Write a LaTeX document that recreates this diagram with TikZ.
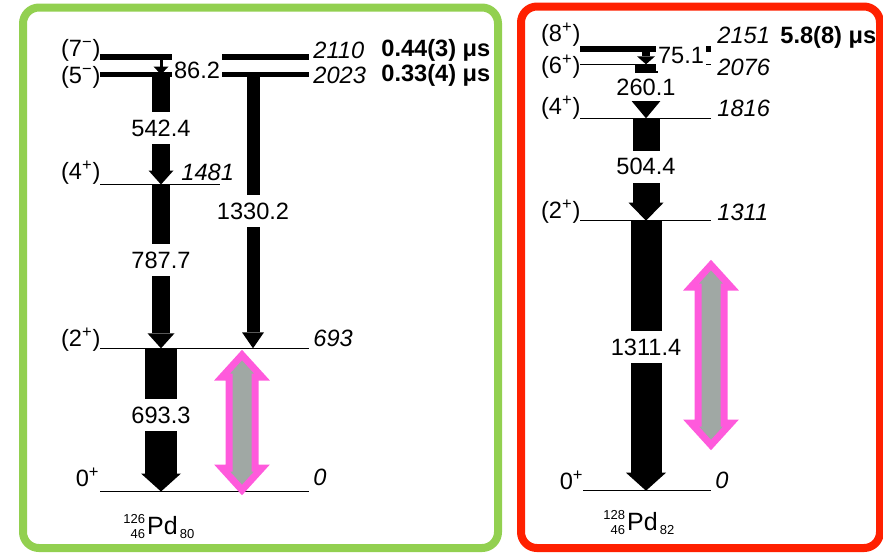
\documentclass[tikz,border=0pt]{standalone}
\usepackage{fontspec}
\setmainfont{Liberation Sans}
\usetikzlibrary{arrows.meta}

\definecolor{boxgreen}{RGB}{146,208,80}
\definecolor{boxred}{RGB}{255,32,0}
\definecolor{arrowpink}{RGB}{255,90,220}
\definecolor{arrowgrey}{RGB}{160,168,164}

\newcommand{\diafont}{\fontsize{11.8pt}{14pt}\selectfont}
\newcommand{\smallnum}{\fontsize{6.5pt}{7.5pt}\selectfont}
\newcommand{\nuc}[4]{{\smallnum\raisebox{5.5pt}{#1}\llap{\raisebox{-2pt}{#2}}}\kern1pt%
  {\fontsize{12.5pt}{14pt}\selectfont#3}{\smallnum\,\raisebox{-2pt}{#4}}}

\tikzset{
  lvl/.style={line width=0.7pt},
  isomer/.style={line width=2.8pt},
  gam/.style n args={3}{line width=#1, -{Triangle[width=#2, length=#3, line width=0pt]}},
  glab/.style={fill=white, inner xsep=1pt, inner ysep=3.75pt},
  spin/.style={anchor=east},
  en/.style={anchor=west, font=\diafont\itshape},
  halflife/.style={anchor=west, font=\diafont\bfseries},
  dbl/.style={draw=arrowpink, fill=arrowgrey, line width=3.5pt},
  panel/.style={line width=4pt, rounded corners=8pt}
}

\begin{document}
\begin{tikzpicture}[x=0.5pt, y=-0.5pt, inner sep=0pt, font=\diafont]
  \useasboundingbox (0,0) rectangle (883,553);
  \draw[panel, boxgreen] (23,7.5) rectangle (498,548);
  \draw[panel, boxred] (521,6.5) rectangle (880,548);

  % 126Pd
  \coordinate (a2110) at (100,57);    \coordinate (b2110) at (309,57);
  \coordinate (a2023) at (100,74.5);  \coordinate (b2023) at (309,74.5);
  \coordinate (a1481) at (100,184.5); \coordinate (b1481) at (220,184.5);
  \coordinate (a693) at (100,348.3);  \coordinate (b693) at (309,348.3);
  \coordinate (a0) at (100,491.5);    \coordinate (b0) at (309,491.5);
  \coordinate (g1) at (161,0);
  \coordinate (g2) at (253,0);

  \draw[isomer] (a2110) -- (b2110);
  \draw[isomer] (a2023) -- (b2023);
  \draw[lvl] (a1481) -- (b1481);
  \draw[lvl] (a693) -- (b693);
  \draw[lvl] (a0) -- (b0);

  \draw[gam={1.5pt}{7.5pt}{4pt}] (g1 |- a2110) -- (g1 |- a2023);
  \draw[gam={8.8pt}{12.5pt}{7pt}] (g1 |- a2023) -- (g1 |- a1481);
  \draw[gam={9pt}{13.5pt}{7.5pt}] (g1 |- a1481) -- (g1 |- a693);
  \draw[gam={16pt}{20pt}{9pt}] (g1 |- a693) -- (g1 |- a0);
  \draw[gam={6.5pt}{11pt}{8pt}] (g2 |- a2023) -- (g2 |- a693);

  \node[glab] (e862) at (197,70) {86.2};
  \node[glab] (e5424) at (161,128) {542.4};
  \node[glab] (e7877) at (161,260) {787.7};
  \node[glab] (e6933) at (161,415) {693.3};
  \node[glab] (e13302) at (253,211) {1330.2};

  \node[spin] (s7) at (101,50) {(7\textsuperscript{−})};
  \node[spin] (s5) at (101,77) {(5\textsuperscript{−})};
  \node[spin] (s4) at (101,173) {(4\textsuperscript{+})};
  \node[spin] (s2) at (101,340) {(2\textsuperscript{+})};
  \node[spin] (s0) at (100,477) {0\textsuperscript{+}};

  \node[en] (n2110) at (313,50) {2110};
  \node[en] (n2023) at (313,75) {2023};
  \node[en] (n1481) at (181,172) {1481};
  \node[en] (n693) at (313,338) {693};
  \node[en] (n0) at (313,477) {0};
  \node[halflife] (t2110) at (381,50) {0.44(3) μs};
  \node[halflife] (t2023) at (381,75) {0.33(4) μs};

  \draw[dbl] (242,355) -- (262,377) -- (255,377) -- (255,468) -- (262,468) -- (242,490)
    -- (222,468) -- (229,468) -- (229,377) -- (222,377) -- cycle;

  \node[anchor=base west] (pd126) at (123,534) {\nuc{126}{46}{Pd}{80}};

  % 128Pd
  \coordinate (a2151) at (580,49);    \coordinate (b2151) at (711,49);
  \coordinate (a2076) at (580,64.3);  \coordinate (b2076) at (711,64.3);
  \coordinate (a1816) at (580,118.3); \coordinate (b1816) at (711,118.3);
  \coordinate (a1311) at (580,220.7); \coordinate (b1311) at (711,220.7);
  \coordinate (c0) at (583,490.7);    \coordinate (d0) at (711,490.7);
  \coordinate (g3) at (646,0);

  \draw[isomer] (a2151) -- (b2151);
  \draw[lvl] (a2076) -- (b2076);
  \draw[lvl] (a1816) -- (b1816);
  \draw[lvl] (a1311) -- (b1311);
  \draw[lvl] (c0) -- (d0);

  \draw[gam={4pt}{9pt}{4pt}] (g3 |- a2151) -- (g3 |- a2076);
  \draw[gam={11.5pt}{15pt}{9pt}] (g3 |- a2076) -- (g3 |- a1816);
  \draw[gam={13.5pt}{17.5pt}{9pt}] (g3 |- a1816) -- (g3 |- a1311);
  \draw[gam={15.5pt}{20pt}{9pt}] (g3 |- a1311) -- (g3 |- c0);

  \node[glab] (e751) at (681,55) {75.1};
  \node[glab, inner ysep=3pt] (e2601) at (646,87) {260.1};
  \node[glab] (e5044) at (646,166.7) {504.4};
  \node[glab] (e13114) at (646,347) {1311.4};

  \node[spin] (s8r) at (581,35) {(8\textsuperscript{+})};
  \node[spin] (s6r) at (581,67) {(6\textsuperscript{+})};
  \node[spin] (s4r) at (581,108) {(4\textsuperscript{+})};
  \node[spin] (s2r) at (581,212) {(2\textsuperscript{+})};
  \node[spin] (s0r) at (584,480) {0\textsuperscript{+}};

  \node[en] (n2151) at (717,35) {2151};
  \node[en] (n2076) at (717,67) {2076};
  \node[en] (n1816) at (717,108) {1816};
  \node[en] (n1311) at (717,212) {1311};
  \node[en] (n0r) at (715,480) {0};
  \node[halflife] (t2151) at (780,37) {5.8(8) μs};

  \draw[dbl] (711,265) -- (731,287) -- (724,287) -- (724,423) -- (731,423) -- (711,445)
    -- (691,423) -- (698,423) -- (698,287) -- (691,287) -- cycle;

  \node[anchor=base west] (pd128) at (603,530) {\nuc{128}{46}{Pd}{82}};
\end{tikzpicture}
\end{document}
